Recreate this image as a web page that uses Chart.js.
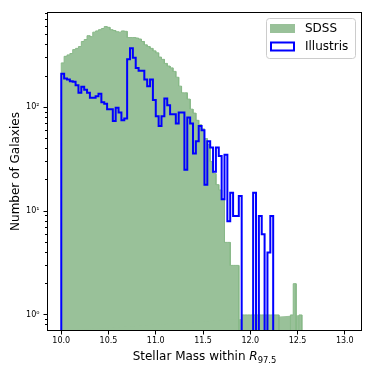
<!DOCTYPE html>
<html>
<head>
<meta charset="utf-8">
<script src="https://cdn.jsdelivr.net/npm/chart.js@4.4.0/dist/chart.umd.min.js"></script>
<style>
  html, body { margin: 0; padding: 0; background: #fff; }
</style>
</head>
<body>
<canvas id="histChart" width="374" height="374"></canvas>
<script>
// histogram bins (100 bins from 10.0 to 13.03)
const binStart = 10.0;
const binWidth = 0.0303;

// counts per bin
const sdssCounts = [
  268, 310, 320, 330, 360, 370, 385, 431, 450, 490,
  480, 530, 545, 560, 575, 600, 590, 560, 550, 535,
  530, 545, 540, 470, 470, 470, 465, 455, 431, 400,
  385, 370, 350, 335, 305, 290, 265, 250, 240, 222,
  195, 160, 138, 138, 120, 96, 88, 75, 68, 62,
  50, 44, 30, 23, 18, 16, 13, 5, 5, 3,
  3, 3, 0, 1, 1, 1, 1, 1, 1, 1,
  1, 1, 1, 1, 1, 1, 0, 0, 0, 0,
  1, 2, 0, 1
];
const illustrisCounts = [
  211, 190, 185, 178, 176, 163, 138, 158, 148, 138,
  124, 124, 128, 135, 112, 108, 96, 96, 74, 99,
  89, 75, 78, 290, 370, 300, 240, 225, 225, 185,
  160, 185, 118, 82, 66, 82, 122, 105, 86, 86,
  70, 89, 89, 25, 80, 70, 36, 47, 66, 60,
  18, 47, 41, 24, 41, 34, 13, 35, 8, 15,
  9, 9, 14, 0, 0, 0, 0, 15, 0, 9,
  6, 0, 4, 9
];

const xTicks = [10.0, 10.5, 11.0, 11.5, 12.0, 12.5, 13.0];
const yMajorTicks = [1, 10, 100];
const yMajorLabels = ['10\u2070', '10\u00B9', '10\u00B2'];
const yMinorTicks = [0.8, 0.9, 2, 3, 4, 5, 6, 7, 8, 9, 20, 30, 40, 50, 60, 70, 80, 90, 200, 300, 400, 500, 600, 700, 800];

const xMin = 9.849, xMax = 13.182;
const yMin = 0.7345, yMax = 829;
const emptyFloor = 0.1; // empty bins drop below the axis, like matplotlib on a log scale

const tickFont = { family: 'DejaVu Sans', size: 8 };
const labelFont = { family: 'DejaVu Sans', size: 12 };

// turn counts into a step outline: left edge and right edge of every bin
function stepPoints(counts) {
  const pts = [{ x: binStart, y: emptyFloor }];
  counts.forEach((c, i) => {
    const lo = binStart + i * binWidth;
    const y = c > 0 ? c : emptyFloor;
    pts.push({ x: lo, y: y }, { x: lo + binWidth, y: y });
  });
  pts.push({ x: binStart + counts.length * binWidth, y: emptyFloor });
  return pts;
}

// black box round the plot area
const framePlugin = {
  id: 'frame',
  afterDatasetsDraw(chart) {
    const { ctx, chartArea: a } = chart;
    ctx.save();
    ctx.strokeStyle = '#000';
    ctx.lineWidth = 1;
    ctx.strokeRect(Math.round(a.left) + 0.5, Math.round(a.top) + 0.5, Math.round(a.right - a.left) - 1, Math.round(a.bottom - a.top) - 1);
    ctx.restore();
  }
};

// x title with italic R and subscript
const xTitlePlugin = {
  id: 'xTitle',
  afterDraw(chart) {
    const { ctx, chartArea: a } = chart;
    const main = 'Stellar Mass within ';
    const sym = 'R';
    const sub = '97.5';
    const size = labelFont.size;
    ctx.save();
    ctx.fillStyle = '#000';
    ctx.textBaseline = 'alphabetic';
    ctx.font = size + 'px "DejaVu Sans"';
    const w1 = ctx.measureText(main).width;
    ctx.font = 'italic ' + size + 'px "DejaVu Sans"';
    const w2 = ctx.measureText(sym).width;
    ctx.font = (size * 0.7) + 'px "DejaVu Sans"';
    const w3 = ctx.measureText(sub).width;
    const cx = (a.left + a.right) / 2;
    let x = cx - (w1 + w2 + w3) / 2;
    const base = 360;
    ctx.font = size + 'px "DejaVu Sans"';
    ctx.fillText(main, x, base);
    x += w1;
    ctx.font = 'italic ' + size + 'px "DejaVu Sans"';
    ctx.fillText(sym, x, base);
    x += w2;
    ctx.font = (size * 0.7) + 'px "DejaVu Sans"';
    ctx.fillText(sub, x, base + 2.5);
    ctx.restore();
  }
};

// legend box in the upper right corner
const legendPlugin = {
  id: 'boxLegend',
  afterDraw(chart) {
    const { ctx, chartArea: a } = chart;
    const ds = chart.data.datasets;
    const x0 = a.right - 96, y0 = a.top + 6, w = 89, h = 40, r = 3;
    ctx.save();
    ctx.beginPath();
    ctx.roundRect(x0 + 0.5, y0 + 0.5, w, h, r);
    ctx.fillStyle = 'rgba(255,255,255,0.8)';
    ctx.fill();
    ctx.strokeStyle = '#cccccc';
    ctx.lineWidth = 1;
    ctx.stroke();

    ctx.font = labelFont.size + 'px "DejaVu Sans"';
    ctx.textBaseline = 'middle';
    ds.forEach((d, i) => {
      const py = y0 + 6 + i * 17.5;
      if (d.fill) {
        ctx.fillStyle = d.backgroundColor;
        ctx.fillRect(x0 + 4, py, 25, 9);
      } else {
        ctx.strokeStyle = d.borderColor;
        ctx.lineWidth = 2;
        ctx.strokeRect(x0 + 5, py + 1, 23, 8);
      }
      ctx.fillStyle = '#000';
      ctx.fillText(d.label, x0 + 39, py + 5);
    });
    ctx.restore();
  }
};

const ctx = document.getElementById('histChart').getContext('2d');
new Chart(ctx, {
  type: 'line',
  data: {
    datasets: [
      {
        label: 'SDSS',
        data: stepPoints(sdssCounts),
        borderColor: '#88b988',
        backgroundColor: 'rgb(153,193,153)',
        borderWidth: 1,
        fill: 'start',
        pointRadius: 0,
        tension: 0,
        order: 2
      },
      {
        label: 'Illustris',
        data: stepPoints(illustrisCounts),
        borderColor: '#0000ff',
        backgroundColor: '#0000ff',
        borderWidth: 2,
        fill: false,
        pointRadius: 0,
        tension: 0,
        order: 1
      }
    ]
  },
  options: {
    responsive: false,
    animation: false,
    devicePixelRatio: 1,
    layout: { padding: { top: 12, right: 12, left: 0, bottom: 0 } },
    plugins: {
      legend: { display: false },
      tooltip: { enabled: false }
    },
    scales: {
      x: {
        type: 'linear',
        min: xMin,
        max: xMax,
        afterBuildTicks: s => { s.ticks = xTicks.map(v => ({ value: v })); },
        afterFit: s => { s.height = 43; },
        ticks: {
          callback: v => v.toFixed(1),
          font: tickFont,
          color: '#000',
          padding: 2,
          autoSkip: false,
          maxRotation: 0
        },
        grid: { drawOnChartArea: false, tickLength: 3.5, color: '#000' },
        border: { display: false }
      },
      y: {
        type: 'logarithmic',
        position: 'left',
        weight: 1,
        min: yMin,
        max: yMax,
        afterBuildTicks: s => { s.ticks = yMajorTicks.map(v => ({ value: v, major: true })); },
        afterFit: s => { s.width = 47; },
        ticks: {
          callback: v => yMajorLabels[yMajorTicks.indexOf(v)],
          font: tickFont,
          color: '#000',
          padding: 4,
          autoSkip: false
        },
        grid: { drawOnChartArea: false, tickLength: 3.5, color: '#000' },
        border: { display: false },
        title: {
          display: true,
          text: 'Number of Galaxies',
          font: labelFont,
          color: '#000',
          padding: { top: 9, bottom: 0 }
        }
      },
      yMinor: {
        type: 'logarithmic',
        position: 'left',
        weight: 0,
        min: yMin,
        max: yMax,
        afterBuildTicks: s => { s.ticks = yMinorTicks.map(v => ({ value: v })); },
        afterFit: s => { s.width = 0; },
        ticks: { callback: () => '', autoSkip: false },
        grid: { drawOnChartArea: false, tickLength: 2, color: '#000' },
        border: { display: false }
      }
    }
  },
  plugins: [framePlugin, xTitlePlugin, legendPlugin]
});
</script>
</body>
</html>
